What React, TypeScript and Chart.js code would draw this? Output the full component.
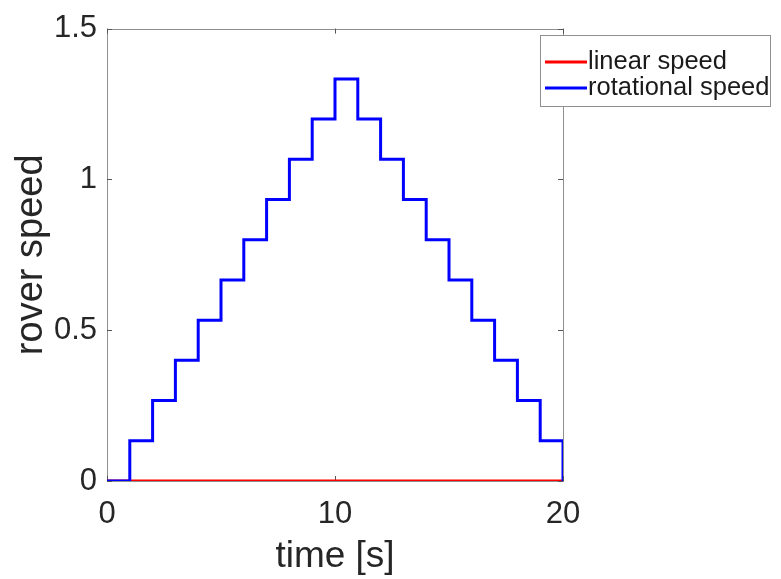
import { useEffect, useRef } from "react";
import { Chart, registerables } from "chart.js";

Chart.register(...registerables);

const time = [0, 1, 2, 3, 4, 5, 6, 7, 8, 9, 10, 11, 12, 13, 14, 15, 16, 17, 18, 19, 20];
const linearSpeed = [0, 0, 0, 0, 0, 0, 0, 0, 0, 0, 0, 0, 0, 0, 0, 0, 0, 0, 0, 0, 0];
const rotationalSpeed = [
  0, 0.1333, 0.2667, 0.4, 0.5333, 0.6667, 0.8, 0.9333, 1.0667, 1.2, 1.3333,
  1.2, 1.0667, 0.9333, 0.8, 0.6667, 0.5333, 0.4, 0.2667, 0.1333, 0,
];
const xTicks = [0, 10, 20];
const yTicks = [0, 0.5, 1, 1.5];
const seriesNames = ["linear speed", "rotational speed"];
const xTitle = "time [s]";
const yTitle = "rover speed";

const FONT = "'Liberation Sans', Arial, Helvetica, sans-serif";

const boxPlugin = {
  id: "matlabBox",
  beforeDatasetsDraw(chart: any) {
    const { ctx, chartArea, scales } = chart;
    const { left, right, top, bottom } = chartArea;
    ctx.save();
    ctx.strokeStyle = "#8f8f8f";
    ctx.lineWidth = 1;
    ctx.strokeRect(Math.round(left) + 0.5, Math.round(top) + 0.5, Math.round(right - left), Math.round(bottom - top));
    ctx.strokeStyle = "#555555";
    const tl = 5;
    ctx.beginPath();
    for (const v of xTicks) {
      const px = Math.round(scales.x.getPixelForValue(v)) + 0.5;
      ctx.moveTo(px, bottom);
      ctx.lineTo(px, bottom - tl);
      ctx.moveTo(px, top);
      ctx.lineTo(px, top + tl);
    }
    for (const v of yTicks) {
      const py = Math.round(scales.y.getPixelForValue(v)) + 0.5;
      ctx.moveTo(left, py);
      ctx.lineTo(left + tl, py);
      ctx.moveTo(right, py);
      ctx.lineTo(right - tl, py);
    }
    ctx.stroke();
    ctx.restore();
  },
};

const legendPlugin = {
  id: "matlabLegend",
  afterDraw(chart: any) {
    const { ctx } = chart;
    const bx = 540, by = 35, bw = 230, bh = 71;
    ctx.save();
    ctx.fillStyle = "#ffffff";
    ctx.fillRect(bx, by, bw, bh);
    ctx.strokeStyle = "#8f8f8f";
    ctx.lineWidth = 1;
    ctx.strokeRect(bx + 0.5, by + 0.5, bw, bh);
    ctx.font = `25.5px ${FONT}`;
    ctx.textBaseline = "middle";
    ctx.textAlign = "left";
    const colors = chart.data.datasets.map((d: any) => d.borderColor);
    seriesNames.forEach((name, i) => {
      const cy = by + 27 + i * 26;
      ctx.strokeStyle = colors[i];
      ctx.lineWidth = 3;
      ctx.beginPath();
      ctx.moveTo(bx + 5, cy);
      ctx.lineTo(bx + 47, cy);
      ctx.stroke();
      ctx.fillStyle = "#1a1a1a";
      ctx.fillText(name, bx + 48, cy);
    });
    ctx.restore();
  },
};

export default function App() {
  const ref = useRef<HTMLCanvasElement | null>(null);
  useEffect(() => {
    document.body.style.margin = "0";
    if (!ref.current) return;
    const chart = new Chart(ref.current, {
      type: "line",
      data: {
        datasets: [
          {
            label: seriesNames[0],
            data: time.map((t, i) => ({ x: t, y: linearSpeed[i] })),
            borderColor: "#ff0000",
            borderWidth: 3,
            pointRadius: 0,
            stepped: true,
            order: 1,
          },
          {
            label: seriesNames[1],
            data: time.map((t, i) => ({ x: t, y: rotationalSpeed[i] })),
            borderColor: "#0000ff",
            borderWidth: 3,
            pointRadius: 0,
            stepped: true,
            order: 0,
          },
        ],
      },
      options: {
        animation: false,
        responsive: false,
        layout: { padding: { left: 0, top: 27, right: 218, bottom: 0 } },
        plugins: { legend: { display: false }, tooltip: { enabled: false } },
        scales: {
          x: {
            type: "linear",
            min: 0,
            max: 20,
            afterBuildTicks: (s: any) => {
              s.ticks = xTicks.map((v) => ({ value: v }));
            },
            afterFit: (s: any) => {
              s.height = 98;
            },
            grid: { display: false, drawTicks: false },
            border: { display: false },
            ticks: {
              color: "#262626",
              font: { family: FONT, size: 31 },
              padding: 15,
              maxRotation: 0,
              callback: (v: any) => String(v),
            },
            title: {
              display: true,
              text: xTitle,
              color: "#262626",
              font: { family: FONT, size: 37 },
              padding: { top: 0, bottom: 0 },
            },
          },
          y: {
            type: "linear",
            min: 0,
            max: 1.5,
            afterBuildTicks: (s: any) => {
              s.ticks = yTicks.map((v) => ({ value: v }));
            },
            afterFit: (s: any) => {
              s.width = 107;
            },
            grid: { display: false, drawTicks: false },
            border: { display: false },
            ticks: {
              color: "#262626",
              font: { family: FONT, size: 31 },
              padding: 10,
              callback: (v: any) => String(v),
            },
            title: {
              display: true,
              text: yTitle,
              color: "#262626",
              font: { family: FONT, size: 38 },
              padding: { top: 9, bottom: 0 },
            },
          },
        },
      },
      plugins: [boxPlugin, legendPlugin],
    });
    return () => chart.destroy();
  }, []);
  return (
    <div style={{ width: 781, height: 579 }}>
      <canvas ref={ref} width={781} height={579} style={{ display: "block" }} />
    </div>
  );
}
